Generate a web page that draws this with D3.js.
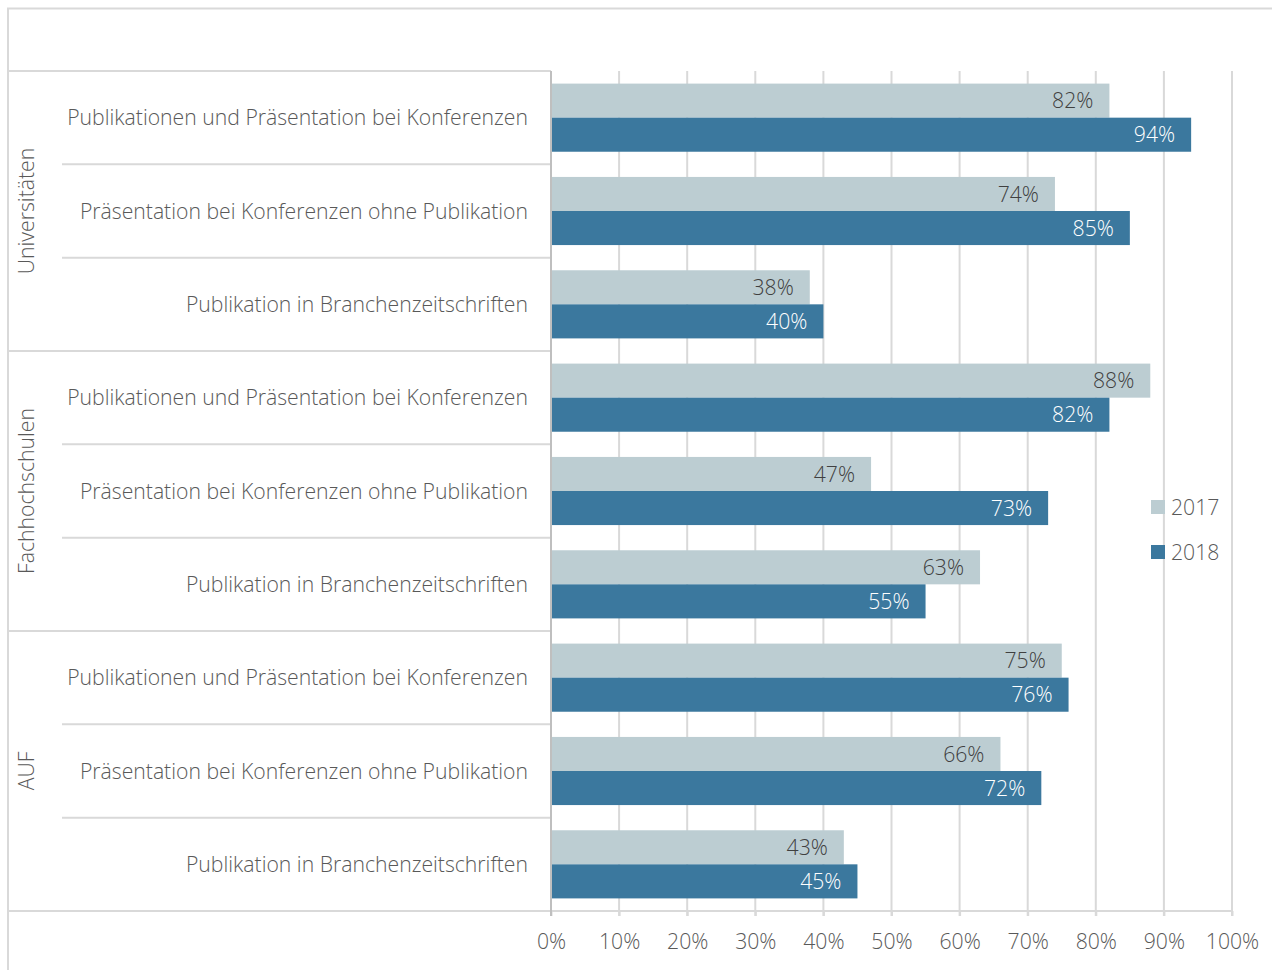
<!DOCTYPE html>
<html>
<head>
<meta charset="utf-8">
<script src="https://cdn.jsdelivr.net/npm/d3@7"></script>
<style>
  html, body { margin: 0; padding: 0; background: #fff; }
  svg text { font-family: "Open Sans", "Noto Sans", sans-serif; font-weight: 350; }
</style>
</head>
<body>
<svg id="chart" width="1272" height="970"></svg>
<script>
// Institution groups and the activities asked about in each
const groups = ["Universitäten", "Fachhochschulen", "AUF"];
const activities = [
  "Publikationen und Präsentation bei Konferenzen",
  "Präsentation bei Konferenzen ohne Publikation",
  "Publikation in Branchenzeitschriften"
];
const seriesNames = ["2017", "2018"];
// Shares per group/activity, in percent
const values2017 = [82, 74, 38, 88, 47, 63, 75, 66, 43];
const values2018 = [94, 85, 40, 82, 73, 55, 76, 72, 45];
const xTicks = [0, 10, 20, 30, 40, 50, 60, 70, 80, 90, 100];

const colors = { "2017": "#bccdd2", "2018": "#3b789e" };
const labelColors = { "2017": "#404040", "2018": "#ffffff" };
const textGrey = "#595959";
const lineGrey = "#d9d9d9";
const fontSize = 21.2;

const svg = d3.select("#chart");

const plot = { left: 551, right: 1232, top: 71, bottom: 911 };
const frameLeft = 8;

// Rows: one per group/activity combination
const rows = [];
groups.forEach((g, gi) => activities.forEach((a, ai) => {
  const i = gi * activities.length + ai;
  rows.push({ key: g + "|" + a, group: g, activity: a, gi, ai,
              v2017: values2017[i], v2018: values2018[i] });
}));

const x = d3.scaleLinear().domain([0, 100]).range([plot.left, plot.right]);
const y = d3.scaleBand().domain(rows.map(r => r.key))
  .range([plot.top, plot.bottom]).paddingInner(0.27).paddingOuter(0.135);
const ySub = d3.scaleBand().domain(seriesNames).range([0, y.bandwidth()]);
const rowStep = (plot.bottom - plot.top) / rows.length;

// Outer frame
svg.append("path")
  .attr("d", `M${frameLeft},970 V8.5 H1272`)
  .attr("fill", "none").attr("stroke", lineGrey).attr("stroke-width", 2);

// Vertical gridlines
svg.append("g").selectAll("line").data(xTicks.slice(1)).join("line")
  .attr("x1", d => x(d)).attr("x2", d => x(d))
  .attr("y1", plot.top).attr("y2", plot.bottom + 5)
  .attr("stroke", lineGrey).attr("stroke-width", 2);

// Bars
const barG = svg.append("g");
seriesNames.forEach(s => {
  barG.selectAll(null).data(rows).join("rect")
    .attr("x", x(0))
    .attr("y", d => y(d.key) + ySub(s))
    .attr("width", d => x(d["v" + s]) - x(0))
    .attr("height", ySub.bandwidth())
    .attr("fill", colors[s]);
  barG.selectAll(null).data(rows).join("text")
    .attr("x", d => x(d["v" + s]) - 16)
    .attr("y", d => y(d.key) + ySub(s) + ySub.bandwidth() / 2)
    .attr("dy", "0.36em")
    .attr("text-anchor", "end")
    .attr("font-size", fontSize)
    .attr("fill", labelColors[s])
    .text(d => d["v" + s] + "%");
});

// Category axis: dividers between activities and groups
const divG = svg.append("g");
rows.forEach((r, i) => {
  const yy = plot.top + (i + 1) * rowStep;
  const isGroupEnd = r.ai === activities.length - 1;
  divG.append("line")
    .attr("x1", isGroupEnd ? frameLeft : 62).attr("x2", plot.left)
    .attr("y1", yy).attr("y2", yy)
    .attr("stroke", lineGrey).attr("stroke-width", 2);
});
divG.append("line")
  .attr("x1", frameLeft).attr("x2", plot.left)
  .attr("y1", plot.top).attr("y2", plot.top)
  .attr("stroke", lineGrey).attr("stroke-width", 2);

// Activity labels
svg.append("g").selectAll("text").data(rows).join("text")
  .attr("x", 528)
  .attr("y", d => y(d.key) + y.bandwidth() / 2)
  .attr("dy", "0.36em")
  .attr("text-anchor", "end")
  .attr("font-size", fontSize)
  .attr("fill", textGrey)
  .text(d => d.activity);

// Group labels, rotated
svg.append("g").selectAll("text").data(groups).join("text")
  .attr("transform", (d, i) => {
    const cy = plot.top + (i + 0.5) * rowStep * activities.length;
    return `translate(26,${cy}) rotate(-90)`;
  })
  .attr("dy", "0.36em")
  .attr("text-anchor", "middle")
  .attr("font-size", fontSize)
  .attr("fill", textGrey)
  .text(d => d);

// Value axis
const xAxis = svg.append("g")
  .attr("transform", `translate(0,${plot.bottom})`)
  .call(d3.axisBottom(x).tickValues(xTicks).tickFormat(d => d + "%").tickSize(5).tickPadding(18));
xAxis.select(".domain").remove();
xAxis.selectAll(".tick line").attr("stroke", lineGrey).attr("stroke-width", 2);
xAxis.selectAll(".tick text").attr("font-size", fontSize).attr("fill", textGrey)
  .style("font-family", "'Open Sans', 'Noto Sans', sans-serif").style("font-weight", 350);
svg.append("line")
  .attr("x1", frameLeft).attr("x2", plot.right)
  .attr("y1", plot.bottom).attr("y2", plot.bottom)
  .attr("stroke", lineGrey).attr("stroke-width", 2);

// Vertical axis line at 0%
svg.append("line")
  .attr("x1", plot.left).attr("x2", plot.left)
  .attr("y1", plot.top).attr("y2", plot.bottom + 5)
  .attr("stroke", "#bfbfbf").attr("stroke-width", 2);

// Legend
const legend = svg.append("g").selectAll("g").data(seriesNames).join("g")
  .attr("transform", (d, i) => `translate(1151,${507 + i * 45})`);
legend.append("rect")
  .attr("x", 0).attr("y", -7).attr("width", 14).attr("height", 14)
  .attr("fill", d => colors[d]);
legend.append("text")
  .attr("x", 20).attr("dy", "0.36em")
  .attr("font-size", fontSize).attr("fill", textGrey)
  .text(d => d);
</script>
</body>
</html>
